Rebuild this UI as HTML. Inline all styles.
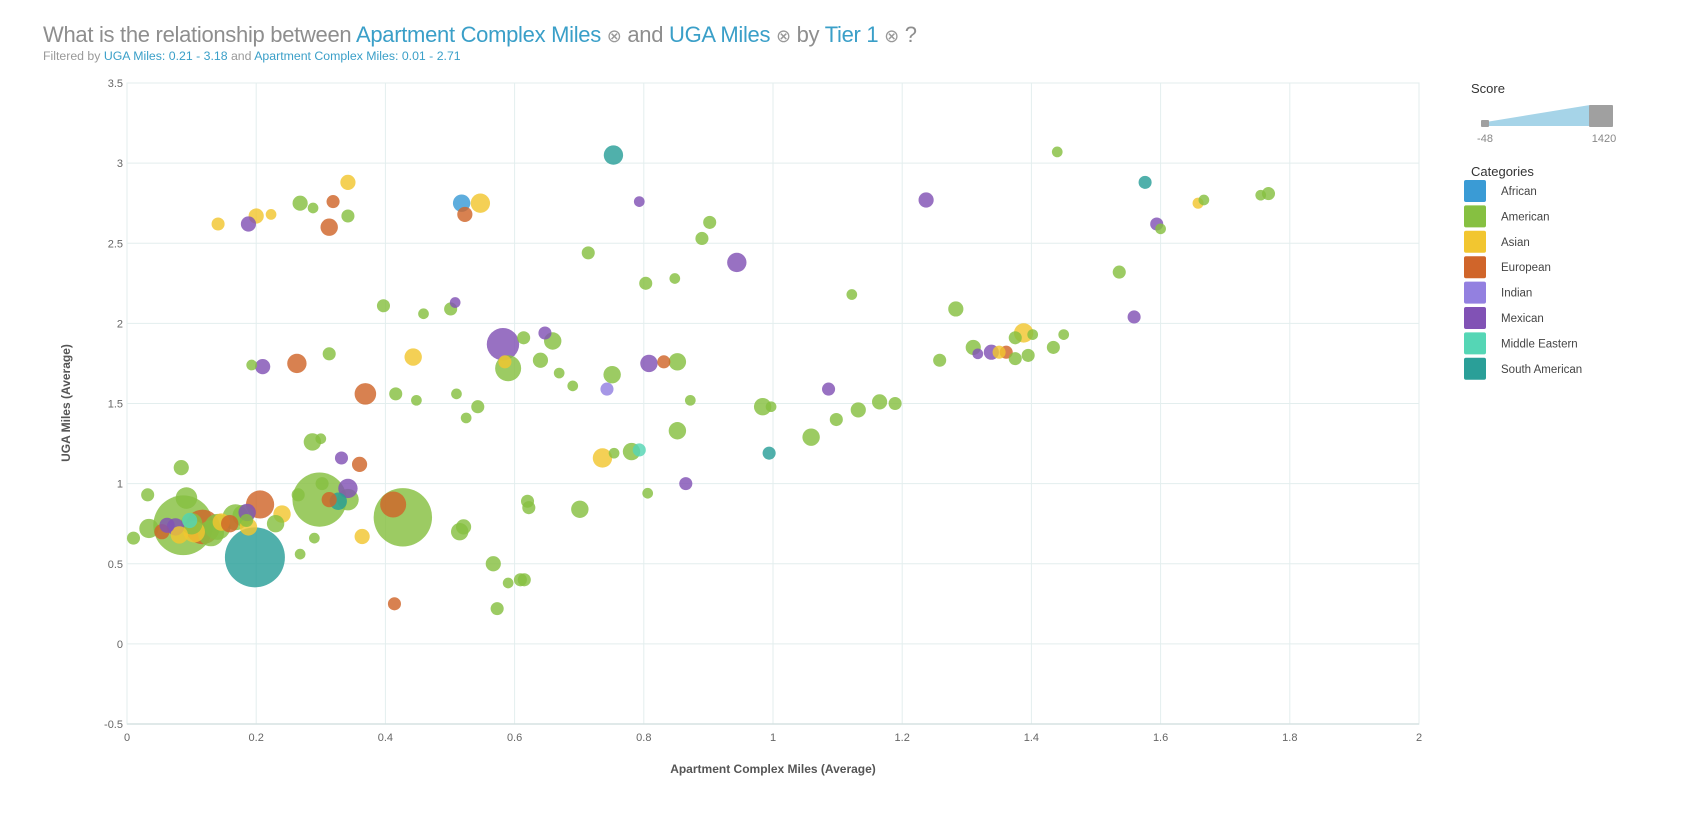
<!DOCTYPE html>
<html><head><meta charset="utf-8"><style>
body{margin:0;background:#fff;font-family:"Liberation Sans",sans-serif;}
svg{display:block}
</style></head><body>
<svg id="chart" width="1696" height="826">
<g>
<text x="43" y="42" font-size="22" fill="#8e8e8e" style="letter-spacing:-0.3px">What is the relationship between <tspan fill="#3a9fc8">Apartment Complex Miles</tspan> <tspan font-size="18" fill="#999">⊗</tspan> and <tspan fill="#3a9fc8">UGA Miles</tspan> <tspan font-size="18" fill="#999">⊗</tspan> by <tspan fill="#3a9fc8">Tier 1</tspan> <tspan font-size="18" fill="#999">⊗</tspan> ?</text>
</g>
<text x="43" y="60" font-size="12.3" fill="#999">Filtered by <tspan fill="#3a9fc8">UGA Miles: 0.21 - 3.18</tspan> and <tspan fill="#3a9fc8">Apartment Complex Miles: 0.01 - 2.71</tspan></text>
<g id="grid"></g>
<g id="axes"></g>
<g id="marks"></g>
<text x="773" y="773" font-size="12" font-weight="bold" fill="#555" text-anchor="middle">Apartment Complex Miles (Average)</text>
<text x="0" y="0" font-size="12" font-weight="bold" fill="#555" text-anchor="middle" transform="translate(70,403) rotate(-90)">UGA Miles (Average)</text>
<g>
<text x="1471" y="93" font-size="13" fill="#333">Score</text>
<polygon points="1486,122 1590,105 1590,126 1486,126" fill="#a6d4e8"/>
<rect x="1481" y="120" width="8" height="7" fill="#a0a0a0" rx="1"/>
<rect x="1589" y="105" width="24" height="22" fill="#a0a0a0" rx="1"/>
<text x="1485" y="142" font-size="11" fill="#888" text-anchor="middle">-48</text>
<text x="1604" y="142" font-size="11" fill="#888" text-anchor="middle">1420</text>
</g>
<text x="1471" y="176" font-size="13" fill="#333">Categories</text>
<g id="legend"></g>
</svg>
<script>
const xTicks=[0,0.2,0.4,0.6,0.8,1,1.2,1.4,1.6,1.8,2];
const yTicks=[-0.5,0,0.5,1,1.5,2,2.5,3,3.5];
const categories=["African","American","Asian","European","Indian","Mexican","Middle Eastern","South American"];
const colors=["#3a9bd5","#86c041","#f2c630","#d0652a","#9380e0","#8152b5","#55d6b5","#2a9f98"];
const pointX=[0.753,1.44,1.576,1.767,1.755,1.658,1.667,1.594,1.60,1.237,0.793,0.342,0.268,0.288,0.2,0.223,0.141,0.188,0.319,0.313,0.342,0.518,0.547,0.523,0.902,0.89,0.944,0.714,0.803,0.848,1.536,1.122,1.283,0.397,0.459,0.501,0.508,1.559,1.402,1.388,0.582,0.614,0.647,0.659,0.313,0.443,0.64,0.59,0.585,0.669,0.69,0.751,0.743,0.808,0.831,0.852,0.872,0.263,0.21,0.193,0.369,0.416,0.448,0.51,0.543,0.525,0.852,0.984,0.997,1.059,1.098,1.132,1.165,1.189,1.086,1.258,1.31,1.317,1.338,1.361,1.375,1.375,1.395,1.434,1.45,1.35,0.994,0.806,0.781,0.793,0.736,0.754,0.865,0.701,0.62,0.622,0.521,0.515,0.567,0.59,0.609,0.615,0.573,0.414,0.364,0.412,0.427,0.36,0.332,0.298,0.302,0.327,0.342,0.313,0.342,0.29,0.268,0.265,0.287,0.3,0.206,0.24,0.23,0.198,0.168,0.18,0.14,0.087,0.117,0.104,0.1,0.097,0.075,0.081,0.092,0.084,0.032,0.01,0.034,0.054,0.062,0.146,0.159,0.188,0.186,0.185,0.13];
const pointY=[3.05,3.07,2.88,2.81,2.80,2.75,2.77,2.62,2.59,2.77,2.76,2.88,2.75,2.72,2.67,2.68,2.62,2.62,2.76,2.60,2.67,2.75,2.75,2.68,2.63,2.53,2.38,2.44,2.25,2.28,2.32,2.18,2.09,2.11,2.06,2.09,2.13,2.04,1.93,1.94,1.87,1.91,1.94,1.89,1.81,1.79,1.77,1.72,1.76,1.69,1.61,1.68,1.59,1.75,1.76,1.76,1.52,1.75,1.73,1.74,1.56,1.56,1.52,1.56,1.48,1.41,1.33,1.48,1.48,1.29,1.40,1.46,1.51,1.50,1.59,1.77,1.85,1.81,1.82,1.82,1.91,1.78,1.80,1.85,1.93,1.82,1.19,0.94,1.20,1.21,1.16,1.19,1.00,0.84,0.89,0.85,0.73,0.70,0.50,0.38,0.40,0.40,0.22,0.25,0.67,0.87,0.79,1.12,1.16,0.90,1.00,0.89,0.97,0.90,0.90,0.66,0.56,0.93,1.26,1.28,0.87,0.81,0.75,0.54,0.79,0.80,0.73,0.74,0.73,0.70,0.75,0.77,0.73,0.68,0.91,1.10,0.93,0.66,0.72,0.70,0.74,0.76,0.75,0.73,0.82,0.77,0.69];
const pointScore=[22,-44,-34,-34,-44,-43,-44,-34,-44,-20,-44,-20,-20,-44,-20,-44,-34,-20,-34,0,-34,0,22,-20,-34,-34,22,-34,-34,-44,-34,-44,-20,-34,-44,-34,-44,-34,-44,22,275,-34,-34,0,-34,0,-20,128,-34,-44,-44,0,-34,0,-34,0,-44,22,-20,-44,52,-34,-44,-44,-34,-44,0,0,-44,0,-34,-20,-20,-34,-34,-34,-20,-44,-20,-34,-34,-34,-34,-34,-44,-34,-34,-44,0,-34,22,-44,-34,0,-34,-34,-20,0,-20,-44,-34,-34,-34,-34,-20,128,1331,-20,-34,1110,-34,0,22,-20,52,-44,-44,-34,0,-44,173,0,0,1420,128,52,128,1406,336,52,52,-20,0,0,52,-20,-34,-34,22,-20,-20,0,0,0,0,-34,128,52];
const pointCat=[7,1,7,1,1,2,1,5,1,5,5,2,1,1,2,2,2,5,3,3,1,0,2,3,1,1,5,1,1,1,1,1,1,1,1,1,5,5,1,2,5,1,5,1,1,2,1,1,2,1,1,1,4,5,3,1,1,3,5,1,3,1,1,1,1,1,1,1,1,1,1,1,1,1,5,1,1,5,5,3,1,1,1,1,1,2,7,1,1,6,2,1,5,1,1,1,1,1,1,1,1,1,1,3,2,3,1,3,5,1,1,7,5,3,1,1,1,1,1,1,3,2,1,7,1,1,1,1,3,2,1,6,5,2,1,1,1,1,1,3,5,2,3,2,5,1,1];
const NS="http://www.w3.org/2000/svg";
const X0=127,X1=1419,Y0=724,Y1=83;
const sx=v=>X0+(v-0)/(2-0)*(X1-X0);
const sy=v=>Y0-(v+0.5)/4*(Y0-Y1);
const sr=s=>4+26*Math.sqrt(Math.max(0,(s+48))/1468);
function mk(t,a,p){const e=document.createElementNS(NS,t);for(const k in a)e.setAttribute(k,a[k]);p.appendChild(e);return e;}
const grid=document.getElementById('grid'),axes=document.getElementById('axes');
mk('rect',{x:X0,y:Y1,width:X1-X0,height:Y0-Y1,fill:'none',stroke:'#dfeaea'},grid);
xTicks.forEach(t=>{
  const l=mk('line',{x1:sx(t),x2:sx(t),y1:Y1,y2:Y0,stroke:'#e3eeee'},grid);
  
  
  const tx=mk('text',{x:sx(t),y:Y0+17,'font-size':11,fill:'#666','text-anchor':'middle'},axes);
  tx.textContent=String(t);
  
  
});
yTicks.forEach(t=>{
  const l=mk('line',{x1:X0,x2:X1,y1:sy(t),y2:sy(t),stroke:'#e3eeee'},grid);
  
  
  const tx=mk('text',{x:X0-4,y:sy(t)+4,'font-size':11,fill:'#666','text-anchor':'end'},axes);
  tx.textContent=String(t);
  
  
});
mk('line',{x1:X0,x2:X1,y1:Y0,y2:Y0,stroke:'#d5e2e2','stroke-width':1.5},axes);
const marks=document.getElementById('marks');
const idx=pointX.map((_,i)=>i).sort((a,b)=>pointScore[b]-pointScore[a]);
idx.forEach(i=>{
  const c=mk('circle',{cx:sx(pointX[i]),cy:sy(pointY[i]),r:sr(pointScore[i]),fill:colors[pointCat[i]],'fill-opacity':0.82},marks);
  
  
});
const lg=document.getElementById('legend');
categories.forEach((c,i)=>{
  const y=191+i*25.4;
  const g=mk('g',{},lg);
  
  
  mk('rect',{x:1464,y:y-11,width:22,height:22,rx:2,fill:colors[i]},g);
  const t=mk('text',{x:1501,y:y+4,'font-size':11.5,fill:'#444'},g);
  t.textContent=c;
});
</script>
</body></html>
